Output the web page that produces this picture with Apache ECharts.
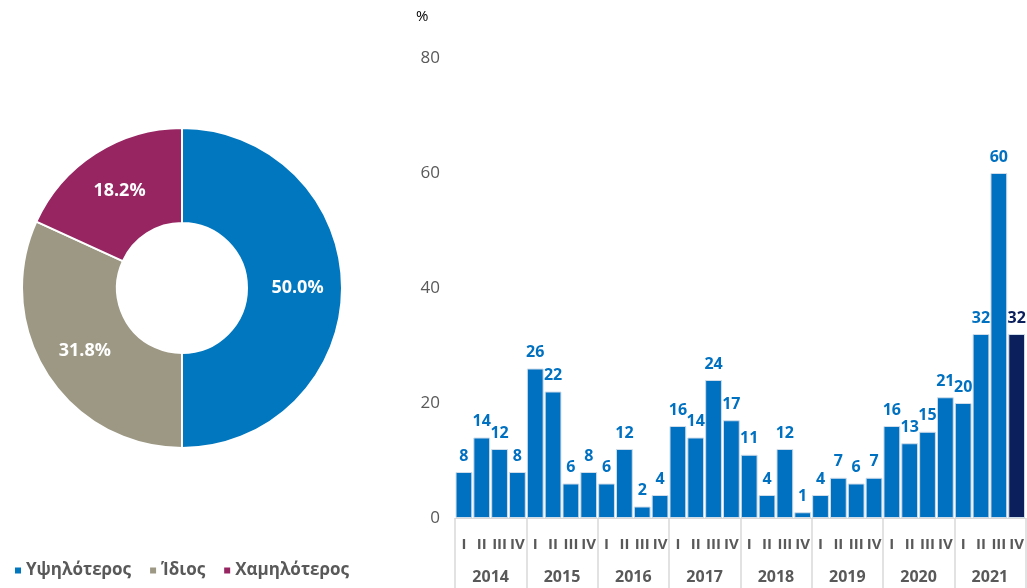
<!DOCTYPE html>
<html>
<head>
<meta charset="utf-8">
<script src="https://cdn.jsdelivr.net/npm/echarts@6/dist/echarts.min.js"></script>
<style>
  html, body { margin: 0; padding: 0; background: #fff; }
  #chart { width: 1027px; height: 588px; }
</style>
</head>
<body>
<div id="chart"></div>
<script>
// Share of answers (donut)
const shareNames = ['Υψηλότερος', 'Ίδιος', 'Χαμηλότερος'];
const shareValues = [50.0, 31.8, 18.2];
const shareColors = ['#0077be', '#9c9884', '#962562'];

// Quarterly series (%)
const years = ['2014', '2015', '2016', '2017', '2018', '2019', '2020', '2021'];
const quarterNames = ['I', 'II', 'III', 'IV'];
const quarterValues = [
  8, 14, 12, 8,
  26, 22, 6, 8,
  6, 12, 2, 4,
  16, 14, 24, 17,
  11, 4, 12, 1,
  4, 7, 6, 7,
  16, 13, 15, 21,
  20, 32, 60, 32
];
const yTicks = { min: 0, max: 80, interval: 20 };

const barBlue = '#0070c0';
const barNavy = '#0a1f5c';
const textGrey = '#595959';
const font = '"Open Sans", "Noto Sans", sans-serif';

const quarterCats = [];
years.forEach(y => quarterNames.forEach(q => quarterCats.push(y + ' ' + q)));
const lastIdx = quarterValues.length - 1;

const barData = quarterValues.map((v, i) => {
  const c = i === lastIdx ? barNavy : barBlue;
  return { value: v, itemStyle: { color: c }, label: { color: c } };
});

const chart = echarts.init(document.getElementById('chart'), null, { renderer: 'canvas' });
chart.setOption({
  backgroundColor: '#ffffff',
  animation: false,
  textStyle: { fontFamily: font },
  graphic: [{
    type: 'text', left: 416, top: 9,
    style: { text: '%', fontSize: 15, fill: '#000', fontFamily: font }
  }],
  legend: {
    left: 8, top: 557,
    itemWidth: 8, itemHeight: 8, itemGap: 17,
    icon: 'rect',
    data: shareNames,
    textStyle: { color: textGrey, fontSize: 17, fontWeight: 'bold', fontFamily: font, padding: [0, 0, 0, -1] }
  },
  grid: { left: 455, right: 0, top: 58, bottom: 70, containLabel: false },
  xAxis: [{
    type: 'category',
    data: quarterCats,
    position: 'bottom',
    axisLine: { show: true, lineStyle: { color: '#d9d9d9', width: 1 } },
    axisTick: { show: false },
    axisLabel: {
      interval: 0, margin: 19,
      color: textGrey, fontSize: 15, fontWeight: 'bold', fontFamily: font,
      formatter: v => v.split(' ')[1]
    }
  }, {
    type: 'category',
    data: years,
    position: 'bottom',
    boundaryGap: true,
    axisLine: { show: false },
    axisTick: { show: true, interval: 0, length: 70, lineStyle: { color: '#d9d9d9', width: 1.5 } },
    axisLabel: {
      interval: 0, margin: 51,
      color: textGrey, fontSize: 16, fontWeight: 'bold', fontFamily: font
    }
  }],
  yAxis: {
    type: 'value',
    min: yTicks.min, max: yTicks.max, interval: yTicks.interval,
    axisLine: { show: false },
    axisTick: { show: false },
    splitLine: { show: false },
    axisLabel: { color: textGrey, fontSize: 17, margin: 15, fontFamily: font }
  },
  series: [{
    type: 'pie',
    center: [182, 288],
    radius: [65, 160],
    startAngle: 90,
    clockwise: true,
    avoidLabelOverlap: false,
    itemStyle: { borderColor: '#ffffff', borderWidth: 2 },
    label: {
      show: true, position: 'inside',
      color: '#ffffff', fontSize: 18, fontWeight: 'bold', fontFamily: font,
      formatter: p => p.value.toFixed(1) + '%'
    },
    labelLine: { show: false },
    emphasis: { disabled: true },
    data: shareNames.map((n, i) => ({ name: n, value: shareValues[i], itemStyle: { color: shareColors[i] } }))
  }, {
    type: 'bar',
    xAxisIndex: 0,
    data: barData,
    barCategoryGap: '6%',
    itemStyle: { borderColor: '#cfdcea', borderWidth: 1 },
    label: {
      show: true, position: 'top', distance: 8,
      fontSize: 16, fontWeight: 'bold', fontFamily: font
    },
    emphasis: { disabled: true }
  }]
});
</script>
</body>
</html>
